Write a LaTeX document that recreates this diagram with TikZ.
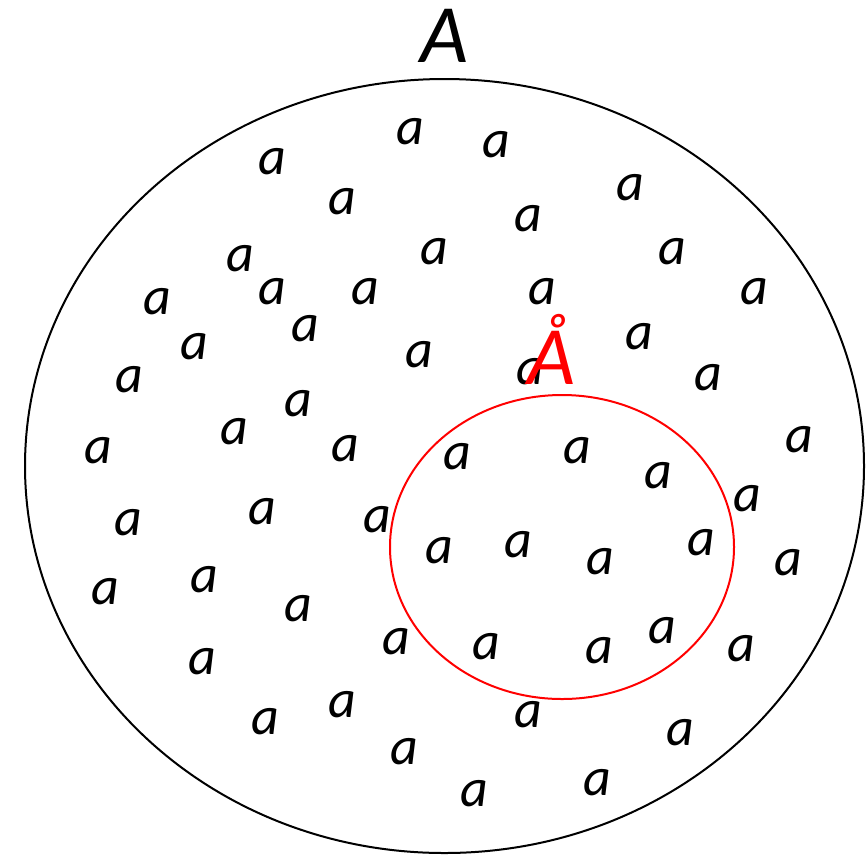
\documentclass[tikz,border=0pt]{standalone}
\usepackage{fontspec}
\setmainfont{Carlito}
\begin{document}
\begin{tikzpicture}[x=1pt,y=-1pt,
  el/.style={font=\fontsize{54}{54}\selectfont\itshape, inner sep=0pt, anchor=center},
  big/.style={font=\fontsize{83}{83}\selectfont\itshape, inner sep=0pt, anchor=base}]
\useasboundingbox (0,0) rectangle (866,855);
\draw[line width=2pt] (444.5,466) ellipse [x radius=419.5pt, y radius=387pt];
\node[big] (A) at (445,62) {A};
\foreach \x/\y [count=\i] in {408/130,494/143,270/160,628/186,340/200,526/217,432/250,670/250,238/257,155/300,270/290,363/290,540/290,752/290,303/327,192/345,637/335,417/353,127/378,528/370,706/376,296/402,232/430,96/449,343/447,455/455,575/449,797/438,656/474,745/497,126/521,260/510,375/518,437/549,516/543,598/560,699/541,786/561,103/590,202/578,296/607,394/640,484/645,597/649,660/629,739/647,200/660,263/720,340/703,526/713,678/731,402/750,472/792,595/781}
  \node[el] (a\i) at (\x+2,\y+2) {a};
\draw[red, line width=2pt] (562,547) ellipse [x radius=172pt, y radius=152pt];
\node[big, red] (Ar) at (552,384) {Å};
\end{tikzpicture}
\end{document}
